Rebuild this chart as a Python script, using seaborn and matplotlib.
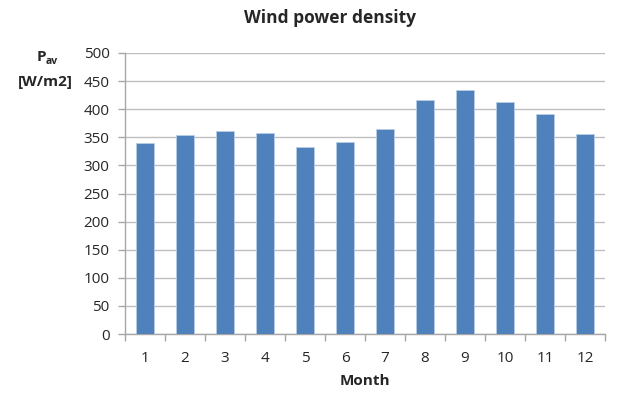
import numpy as np
import pandas as pd
import seaborn as sns
import matplotlib.pyplot as plt
from matplotlib.ticker import FixedLocator

months = [1, 2, 3, 4, 5, 6, 7, 8, 9, 10, 11, 12]
power_density = [340, 354, 361, 358, 332, 342, 364, 416, 434, 412, 392, 356]
y_ticks = list(range(0, 501, 50))

df = pd.DataFrame({"Month": [str(m) for m in months], "P": power_density})

sns.set_theme(style="white")
plt.rcParams["font.family"] = ["Open Sans", "DejaVu Sans"]

fig = plt.figure(figsize=(6.26, 3.95), dpi=100)
W, H = 626, 395
ax = fig.add_axes([125 / W, 1 - 334 / H, 480 / W, (334 - 53) / H])

sns.barplot(data=df, x="Month", y="P", ax=ax, color="#4F81BD", saturation=1,
            width=0.43, edgecolor="#B9CDE5", linewidth=0.6, zorder=3)

ax.set_ylim(0, 500)
ax.set_xlim(-0.5, len(months) - 0.5)
ax.set_yticks(y_ticks)
ax.yaxis.grid(True, color="#BFBFBF", linewidth=1.0, zorder=0)
ax.set_axisbelow(True)

for side in ["top", "right"]:
    ax.spines[side].set_visible(False)
for side in ["left", "bottom"]:
    ax.spines[side].set_color("#A6A6A6")
    ax.spines[side].set_linewidth(1.0)

ax.tick_params(axis="y", which="major", left=True, length=5, width=1,
               color="#A6A6A6", labelsize=11, labelcolor="#262626", pad=6)
ax.tick_params(axis="x", which="major", bottom=False, labelsize=11,
               labelcolor="#262626", pad=6)
ax.xaxis.set_minor_locator(FixedLocator(np.arange(-0.5, len(months), 1.0)))
ax.tick_params(axis="x", which="minor", bottom=True, length=5, width=1,
               color="#A6A6A6")

ax.set_xlabel("Month", fontsize=11, fontweight="bold", color="#262626", labelpad=6)
ax.set_ylabel("")

fig.text(330 / W, 1 - 18 / H, "Wind power density", ha="center", va="center",
         fontsize=12.5, fontweight="bold", color="#262626")

# y-axis label: P with subscript "av", then unit below
fig.text(37 / W, 1 - 57 / H, "P", ha="left", va="center",
         fontsize=11, fontweight="bold", color="#262626")
fig.text(46 / W, 1 - 62 / H, "av", ha="left", va="center",
         fontsize=7.5, fontweight="bold", color="#262626")
fig.text(45 / W, 1 - 82 / H, "[W/m2]", ha="center", va="center",
         fontsize=11, fontweight="bold", color="#262626")

fig.savefig("out.png", dpi=100)
